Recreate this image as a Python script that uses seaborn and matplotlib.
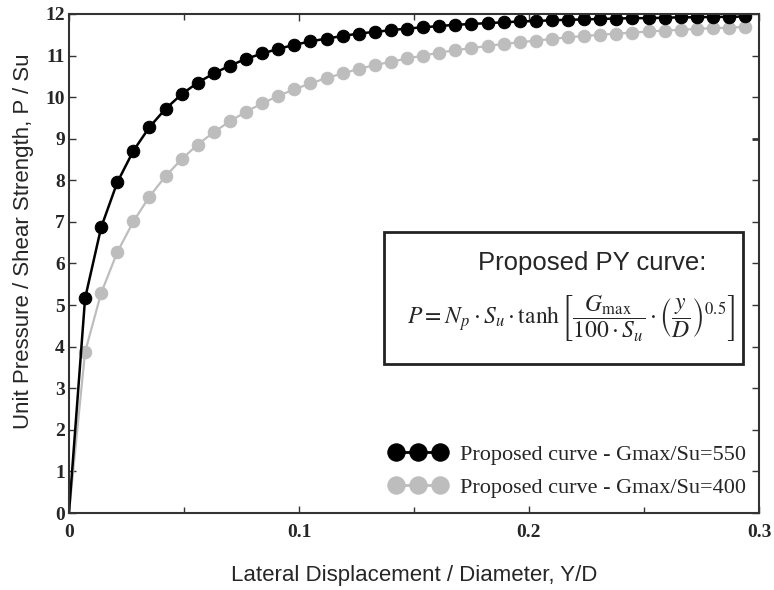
import numpy as np
import pandas as pd
import matplotlib
matplotlib.use("Agg")
import matplotlib.pyplot as plt
from matplotlib.ticker import MultipleLocator
from matplotlib.patches import Rectangle
import seaborn as sns

# Lateral displacement / diameter (Y/D)
yd = [0.007 * k for k in range(43)]
yd = [round(v, 3) for v in yd]

# P/Su for Gmax/Su = 550
p_550 = [0.00, 5.16, 6.87, 7.95, 8.71, 9.28, 9.72, 10.07, 10.35, 10.57, 10.76,
         10.92, 11.05, 11.16, 11.26, 11.34, 11.41, 11.47, 11.53, 11.57, 11.61,
         11.65, 11.68, 11.71, 11.74, 11.76, 11.78, 11.80, 11.82, 11.83, 11.85,
         11.86, 11.87, 11.88, 11.89, 11.90, 11.90, 11.91, 11.92, 11.92, 11.93,
         11.93, 11.94]

# P/Su for Gmax/Su = 400
p_400 = [0.00, 3.87, 5.29, 6.27, 7.01, 7.61, 8.10, 8.51, 8.86, 9.16, 9.42,
         9.65, 9.85, 10.03, 10.19, 10.33, 10.46, 10.57, 10.68, 10.77, 10.85,
         10.93, 11.00, 11.07, 11.13, 11.18, 11.23, 11.28, 11.32, 11.36, 11.40,
         11.44, 11.47, 11.50, 11.53, 11.55, 11.58, 11.60, 11.62, 11.64, 11.66,
         11.67, 11.69]

labels = ["Proposed curve - Gmax/Su=550", "Proposed curve - Gmax/Su=400"]
x_ticks = [0, 0.1, 0.2, 0.3]
x_ticklabels = ["0", "0.1", "0.2", "0.3"]
y_ticks = list(range(0, 13))

sns.set_style("white")
plt.rcParams["font.family"] = ["Liberation Sans", "DejaVu Sans"]
plt.rcParams["mathtext.fontset"] = "stix"

fig = plt.figure(figsize=(7.74, 5.90), dpi=100)
ax = fig.add_axes([0.0891, 0.1305, 0.8915, 0.8458])

gray = "#bdbdbd"
marks = list(range(1, len(yd)))
sns.lineplot(x=yd, y=p_400, ax=ax, color=gray, marker="o", markersize=9,
             markeredgecolor=gray, markerfacecolor=gray, linewidth=1.6,
             label=labels[1], markevery=marks)
sns.lineplot(x=yd, y=p_550, ax=ax, color="black", marker="o", markersize=9,
             markeredgecolor="black", markerfacecolor="black", linewidth=1.8,
             label=labels[0], markevery=marks)

ax.set_xlim(0, 0.3)
ax.set_ylim(0, 12)
ax.set_xticks(x_ticks)
ax.set_xticklabels(x_ticklabels)
ax.xaxis.set_minor_locator(MultipleLocator(0.05))
ax.set_yticks(y_ticks)
ax.set_yticklabels([str(v) for v in y_ticks])

for lab in ax.get_xticklabels() + ax.get_yticklabels():
    lab.set_fontfamily("Liberation Serif")
    lab.set_fontweight("bold")
    lab.set_fontsize(14)

ax.tick_params(axis="both", which="both", direction="in", top=True, right=True,
               bottom=True, left=True, color="#333333", width=1.0)
ax.tick_params(axis="both", which="major", length=5)
ax.tick_params(axis="x", which="major", pad=8)
ax.tick_params(axis="y", which="major", pad=3)
ax.tick_params(axis="both", which="minor", length=4)
# the slightly coloured right-hand tick at 9
ax.yaxis.get_major_ticks()[9].tick2line.set_color("#1a1a7a")
ax.yaxis.get_major_ticks()[9].tick2line.set_markeredgewidth(2)

for s in ax.spines.values():
    s.set_color("#333333")
    s.set_linewidth(1.5)

ax.set_xlabel("Lateral Displacement / Diameter, Y/D", fontsize=16, labelpad=17)
ax.set_ylabel("Unit Pressure / Shear Strength, P / Su", fontsize=16)
ax.yaxis.set_label_coords(-0.05, 0.545)

# Formula box
ax.add_patch(Rectangle((0.4565, 0.2986), 0.5205, 0.2644, transform=ax.transAxes,
                       facecolor="white", edgecolor="#222222", linewidth=2, zorder=5))
ax.text(0.758, 0.50, "Proposed PY curve:", transform=ax.transAxes,
        ha="center", va="center", fontsize=18.5, zorder=6)
ax.text(0.727, 0.39,
        r"$P = N_p \cdot S_u \cdot \tanh\left[\dfrac{G_{\max}}{100\cdot S_u}\cdot\left(\dfrac{y}{D}\right)^{0.5}\right]$",
        transform=ax.transAxes, ha="center", va="center", fontsize=17, zorder=6)

h, l = ax.get_legend_handles_labels()
order = [1, 0]
leg = ax.legend([h[i] for i in order], [l[i] for i in order], loc="lower left",
                bbox_to_anchor=(0.435, -0.01), frameon=False, numpoints=3,
                handlelength=2.6, handletextpad=0.6, labelspacing=0.55,
                prop={"family": "Liberation Serif", "size": 16})
for lh in leg.legend_handles:
    lh.set_markersize(12.5)
    lh.set_linewidth(2)
    lh.set_markevery(None)

fig.savefig("out.png", dpi=100)
